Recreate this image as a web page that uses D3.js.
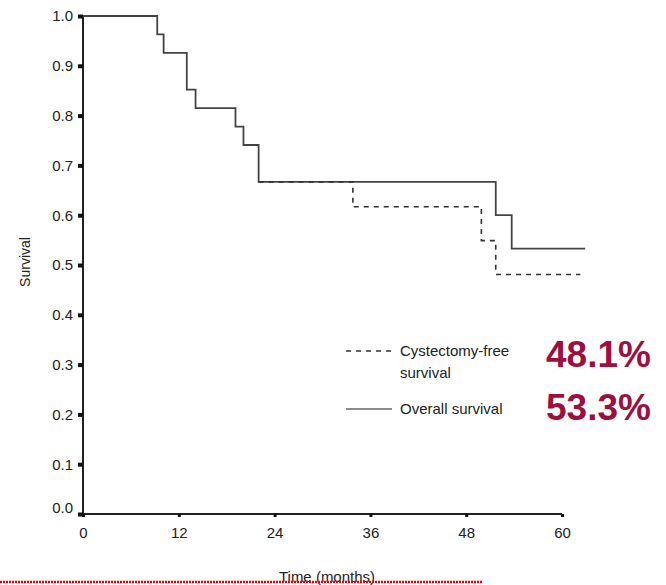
<!DOCTYPE html>
<html>
<head>
<meta charset="utf-8">
<script src="https://cdn.jsdelivr.net/npm/d3@7"></script>
<style>
  body { margin: 0; background: #fff; }
  svg text { font-family: "Liberation Sans", Arial, sans-serif; }
</style>
</head>
<body>
<svg width="666" height="585"></svg>
<script>
// step curves: [month, survival] — value holds from this month to the next
const overallSteps = [
  [0, 1.0], [9.3, 0.963], [10.1, 0.926], [13.0, 0.852], [14.1, 0.815],
  [19.1, 0.778], [20.1, 0.741], [22.0, 0.667], [51.7, 0.600], [53.7, 0.533], [62.9, 0.533]
];
const cystFreeSteps = [
  [0, 1.0], [9.3, 0.963], [10.1, 0.926], [13.0, 0.852], [14.1, 0.815],
  [19.1, 0.778], [20.1, 0.741], [22.0, 0.667], [33.8, 0.617], [49.9, 0.549], [51.7, 0.481], [62.3, 0.481]
];
const xTicks = [0, 12, 24, 36, 48, 60];
const yTicks = [0, 0.1, 0.2, 0.3, 0.4, 0.5, 0.6, 0.7, 0.8, 0.9, 1.0];
const legendLabels = [["Cystectomy-free", "survival"], ["Overall survival"]];
const legendRates = ["48.1%", "53.3%"];

const svg = d3.select("svg");
const x = d3.scaleLinear().domain([0, 60]).range([83, 562]);
const y = d3.scaleLinear().domain([0, 1]).range([514, 16]);

const line = d3.line()
  .x(d => x(d[0]))
  .y(d => y(d[1]))
  .curve(d3.curveStepAfter);

// axes
const yAxis = svg.append("g")
  .attr("transform", `translate(${x(0)},0)`)
  .call(d3.axisLeft(y).tickValues(yTicks).tickFormat(d3.format(".1f")).tickSize(5).tickPadding(5));
const xAxis = svg.append("g")
  .attr("transform", `translate(0,${y(0)})`)
  .call(d3.axisBottom(x).tickValues(xTicks).tickSize(3).tickPadding(10));

[xAxis, yAxis].forEach(g => {
  g.select(".domain").attr("stroke", "#222").attr("stroke-width", 2);
  g.selectAll(".tick line").attr("stroke", "#111").attr("stroke-width", 4);
  g.selectAll(".tick text").attr("font-size", 15).attr("fill", "#222");
});
xAxis.selectAll(".tick line").attr("stroke-width", 3);
// redraw domain without outer ticks
yAxis.select(".domain").attr("d", `M0,${y(0)}V${y(1)}`);
xAxis.select(".domain").attr("d", `M${x(0)},0H${x(60)}`);
yAxis.selectAll(".tick").filter(d => d === 0).select("text").attr("dy", "-0.1em");

// curves
svg.append("path")
  .datum(overallSteps)
  .attr("d", line)
  .attr("fill", "none")
  .attr("stroke", "#444")
  .attr("stroke-width", 1.8);

svg.append("path")
  .datum(cystFreeSteps.filter(d => d[0] >= 22))
  .attr("d", line)
  .attr("fill", "none")
  .attr("stroke", "#333")
  .attr("stroke-width", 1.6)
  .attr("stroke-dasharray", "5,5");

// axis titles
svg.append("text")
  .attr("transform", "translate(30,262) rotate(-90)")
  .attr("text-anchor", "middle")
  .attr("font-size", 14)
  .attr("fill", "#222")
  .text("Survival");

svg.append("text")
  .attr("x", 327)
  .attr("y", 582)
  .attr("text-anchor", "middle")
  .attr("font-size", 15)
  .attr("fill", "#222")
  .text("Time (months)");

// red dotted rule at bottom
svg.append("line")
  .attr("x1", 0).attr("x2", 482)
  .attr("y1", 582).attr("y2", 582)
  .attr("stroke", "#e8000b")
  .attr("stroke-width", 2.5)
  .attr("stroke-dasharray", "2,1");

// legend
const legendY = [351, 409];
const legend = svg.selectAll(".legend")
  .data(legendLabels)
  .enter().append("g")
  .attr("class", "legend")
  .attr("transform", (d, i) => `translate(0,${legendY[i]})`);

legend.append("line")
  .attr("x1", 346).attr("x2", 392)
  .attr("stroke", (d, i) => i === 0 ? "#333" : "#666")
  .attr("stroke-width", (d, i) => i === 0 ? 1.4 : 1.6)
  .attr("stroke-dasharray", (d, i) => i === 0 ? "5,5" : null);

legend.each(function (lines) {
  const t = d3.select(this).append("text")
    .attr("x", 400)
    .attr("y", 5)
    .attr("font-size", 15)
    .attr("fill", "#222");
  lines.forEach((s, j) => {
    t.append("tspan").attr("x", 400).attr("dy", j === 0 ? 0 : 22).text(s);
  });
});

legend.append("text")
  .attr("x", 546)
  .attr("y", (d, i) => i === 0 ? 16 : 11)
  .attr("font-size", 37)
  .attr("font-weight", "bold")
  .attr("fill", "#9c0f3f")
  .text((d, i) => legendRates[i]);
</script>
</body>
</html>
